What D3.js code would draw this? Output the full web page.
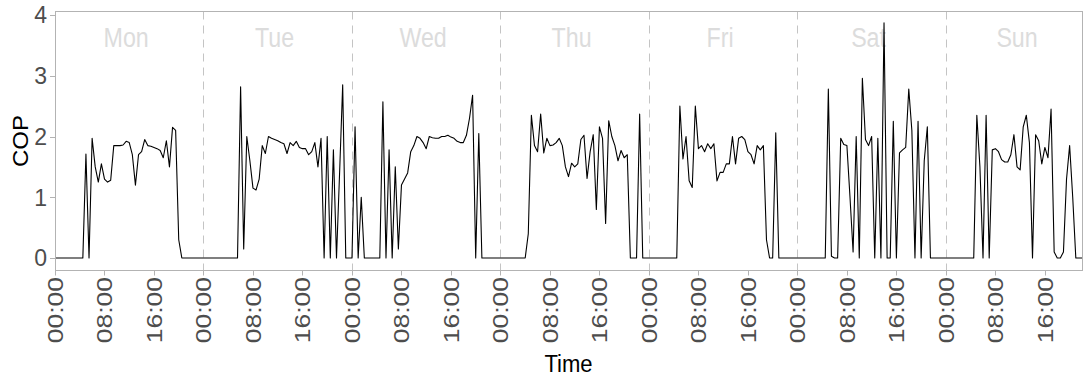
<!DOCTYPE html>
<html><head><meta charset="utf-8">
<script src="https://cdn.jsdelivr.net/npm/d3@7"></script>
<style>
body{margin:0;background:#fff}
svg{display:block}
text{font-family:"Liberation Sans",Arial,sans-serif}
</style>
</head><body>
<svg id="chart" width="1083" height="378"></svg>
<script>
// ---- data (COP, half-hourly, starting Monday 00:00) ----
const dayNames = ["Mon","Tue","Wed","Thu","Fri","Sat","Sun"];
const stepHours = 0.5;
const mon = [0,0,0,0,0,0,0,0,0,0,
  1.71,0,1.97,1.5,1.25,1.55,1.3,1.25,1.28,1.85,1.85,1.85,1.86,1.92,1.9,1.7,1.2,1.7,1.75,1.95,
  1.85,1.84,1.82,1.8,1.77,1.65,1.93,1.5,2.15,2.1,0.3,
  0,0,0,0,0,0,0];
const tue = [0,0,0,0,0,0,0,0,0,0,0,0,
  2.82,0.15,2.0,1.6,1.15,1.12,1.3,1.85,1.72,2.0,1.97,1.95,1.93,1.9,1.88,1.72,1.9,1.85,
  1.92,1.82,1.8,1.8,1.7,1.75,1.9,1.5,1.97,0,2.0,0,1.78,0,1.4,2.85,0,0];
const wed = [0,2.16,0,1.0,0,0,0,0,0,0,
  2.57,0,1.78,0,1.5,0.15,1.2,1.3,1.4,1.75,1.85,2.0,1.97,1.9,1.8,2.0,1.98,1.97,1.97,2.0,
  2.0,2.02,1.99,1.97,1.92,1.9,1.9,2.02,2.3,2.68,0,2.05,0,
  0,0,0,0,0];
const thu = [0,0,0,0,0,0,0,0,0,
  0.4,2.35,1.85,1.75,2.37,1.73,1.97,1.85,1.86,1.9,1.97,1.85,1.5,1.34,1.56,1.5,1.55,1.95,2.02,
  1.31,1.75,2.03,0.8,2.16,1.97,0.57,2.26,2.0,1.85,1.6,1.77,1.65,1.7,0,0,0,2.37,0,0];
const fri = [0,0,0,0,0,0,0,0,0,0,
  2.5,1.63,2.0,1.27,1.16,2.5,1.8,1.85,1.75,1.88,1.8,1.88,1.27,1.41,1.41,1.55,1.55,2.0,1.55,
  1.97,2.0,1.95,1.75,1.7,1.55,1.85,1.78,1.85,0.3,0,0,2.06,0,
  0,0,0,0,0];
const sat = [0,0,0,0,0,0,0,0,0,0,
  2.78,0.03,0,0,1.97,1.87,1.85,1.0,0.1,2.0,0,2.96,1.95,1.85,2.0,0,1.97,0,3.87,0,
  0,2.25,0,1.73,1.78,1.82,2.78,2.1,0,2.25,0,1.6,2.16,0,
  0,0,0,0];
const sun = [0,0,0,0,0,0,0,0,0,0,
  2.35,1.5,0,2.35,0,1.78,1.8,1.75,1.62,1.58,1.58,1.7,2.03,1.5,1.45,2.16,2.35,1.9,0,2.03,
  1.93,1.55,1.82,1.65,2.45,0.1,0,0,0.1,1.3,1.85,1.0,0,0,0];
const yTickValues = [0,1,2,3,4];
const xTickHours = [0,8,16];
const xTickLabels = ["00:00","08:00","16:00"];

const series = [mon,tue,wed,thu,fri,sat,sun];
const data = [];
series.forEach((vals,d)=>vals.forEach((v,i)=>data.push({t:d*24+i*stepHours, v:v})));

// ---- layout ----
const svg = d3.select("#chart");
const left = 55, right = 1082;
const x = d3.scaleLinear().domain([0, d3.max(data,d=>d.t)]).range([left,right]);
const y = d3.scaleLinear().domain([0,4]).range([258,15]);
const pTop = Math.round(y(4.06))+0.5, pBot = Math.round(y(-0.19))+0.5;
const grey = "#b3b3b3";

// day separators
svg.append("g").selectAll("line").data(d3.range(1,7)).join("line")
  .attr("x1",d=>Math.round(x(d*24))+0.5).attr("x2",d=>Math.round(x(d*24))+0.5)
  .attr("y1",pTop).attr("y2",pBot)
  .attr("stroke","#c4c4c4").attr("stroke-width",1).attr("stroke-dasharray","8,6");

// day labels
svg.append("g").selectAll("text").data(dayNames).join("text")
  .attr("transform",(d,i)=>`translate(${x(i*24+11.5)},46.5) scale(0.83,1)`)
  .attr("text-anchor","middle").attr("font-size",28).attr("fill","#dcdcdc")
  .text(d=>d);

// line
svg.append("path").datum(data)
  .attr("d", d3.line().x(d=>x(d.t)).y(d=>y(d.v)))
  .attr("fill","none").attr("stroke","#000").attr("stroke-width",1.1)
  .attr("stroke-linejoin","round");

// panel border
svg.append("rect").attr("x",left+0.5).attr("y",pTop).attr("width",right-left).attr("height",pBot-pTop)
  .attr("fill","none").attr("stroke",grey).attr("stroke-width",1);

// y axis
const yAx = svg.append("g");
yAx.selectAll("line").data(yTickValues).join("line")
  .attr("x1",left-5).attr("x2",left).attr("y1",d=>Math.round(y(d))+0.5).attr("y2",d=>Math.round(y(d))+0.5)
  .attr("stroke",grey);
yAx.selectAll("text").data(yTickValues).join("text")
  .attr("x",47).attr("y",d=>y(d)).attr("dy","0.36em")
  .attr("text-anchor","end").attr("font-size",23).attr("fill","#4d4d4d")
  .text(d=>d);

// x axis
const xTicks = d3.range(0, d3.max(data,d=>d.t)+0.001, 8);
const xAx = svg.append("g");
xAx.selectAll("line").data(xTicks).join("line")
  .attr("x1",d=>Math.round(x(d))+0.5).attr("x2",d=>Math.round(x(d))+0.5)
  .attr("y1",pBot).attr("y2",pBot+5).attr("stroke",grey);
xAx.selectAll("text").data(xTicks).join("text")
  .attr("transform",d=>`translate(${x(d)},277) scale(0.83,1) rotate(-90)`)
  .attr("dy","0.36em").attr("text-anchor","end").attr("font-size",26.5).attr("fill","#4d4d4d")
  .text(d=>xTickLabels[xTickHours.indexOf(d%24)]);

// axis titles
svg.append("text").attr("transform",`translate(${(left+right)/2},371.5) scale(0.92,1)`)
  .attr("text-anchor","middle").attr("font-size",24).attr("fill","#000").text("Time");
svg.append("text").attr("transform",`translate(28,141) scale(0.95,1) rotate(-90)`)
  .attr("text-anchor","middle").attr("font-size",24).attr("fill","#000").text("COP");
</script>
</body></html>
